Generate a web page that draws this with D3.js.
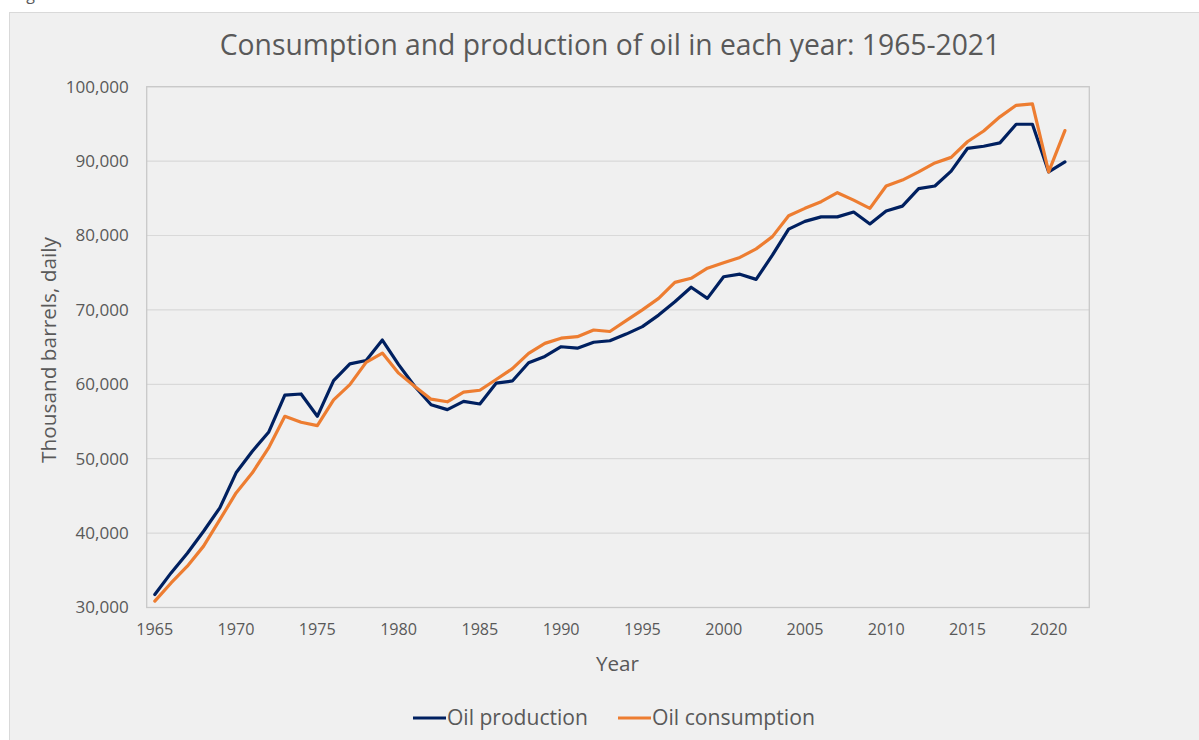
<!DOCTYPE html>
<html>
<head>
<meta charset="utf-8">
<script src="https://cdn.jsdelivr.net/npm/d3@7"></script>
<style>
  html, body { margin: 0; padding: 0; background: #ffffff; }
  svg { display: block; }
  text { font-family: "Open Sans", "Noto Sans", sans-serif; fill: #595959; }
</style>
</head>
<body>
<svg id="chart" width="1199" height="740"></svg>
<script>
// ---- Data (thousand barrels daily) ----
const years = d3.range(1965, 2022);
const axisYears = d3.range(1965, 2023); // category slots incl. an empty trailing slot
const xTickLabels = ["1965","1970","1975","1980","1985","1990","1995","2000","2005","2010","2015","2020"];
const yTicks = [30000, 40000, 50000, 60000, 70000, 80000, 90000, 100000];

const oilProduction = [
  31750, 34650, 37300, 40250, 43400, 48100, 51000, 53550, 58550, 58700,
  55700, 60500, 62750, 63200, 65950, 62650, 59700, 57250, 56600, 57700,
  57350, 60150, 60450, 62900, 63750, 65050, 64850, 65650, 65850, 66750,
  67750, 69300, 71100, 73050, 71550, 74450, 74800, 74100, 77350, 80850,
  81900, 82500, 82500, 83150, 81550, 83300, 83950, 86300, 86650, 88650,
  91700, 92000, 92450, 94950, 94950, 88550, 89900
];
const oilConsumption = [
  30850, 33300, 35550, 38250, 41800, 45400, 48100, 51450, 55700, 54900,
  54450, 57900, 59950, 62950, 64200, 61500, 59700, 58000, 57650, 58950,
  59200, 60650, 62100, 64150, 65500, 66200, 66400, 67300, 67100, 68550,
  70000, 71550, 73700, 74250, 75600, 76350, 77050, 78200, 79850, 82650,
  83650, 84550, 85750, 84750, 83650, 86650, 87450, 88550, 89750, 90500,
  92600, 94050, 95950, 97500, 97700, 88550, 94100
];
const seriesNames = ["Oil production", "Oil consumption"];
const seriesColors = ["#002060", "#ED7D31"];

// ---- Layout ----
const W = 1199, H = 740;
const plot = { left: 146.7, right: 1089.3, top: 86.7, bottom: 607.5 };

const svg = d3.select("#chart");

// small caption cut off at the top (as in the reference)
svg.append("text").attr("x", 14).attr("y", 0).attr("font-size", 16).attr("fill", "#000").text("Figure 1");

// chart box
svg.append("rect").attr("x", 9.5).attr("y", 12.5).attr("width", W).attr("height", H)
  .attr("fill", "#f0f0f0").attr("stroke", "#d9d9d9").attr("stroke-width", 1);

const x = d3.scaleBand().domain(axisYears).range([plot.left, plot.right]).padding(0);
const cx = yr => x(yr) + x.bandwidth() / 2;
const y = d3.scaleLinear().domain([30000, 100000]).range([plot.bottom, plot.top]);

// fit-to-width helper
function fit(sel, target) {
  const fs = parseFloat(sel.attr("font-size"));
  const w = sel.node().getComputedTextLength();
  sel.attr("font-size", fs * target / w);
  return fs * target / w;
}

// gridlines
svg.append("g").selectAll("line").data(yTicks.slice(1)).join("line")
  .attr("x1", plot.left).attr("x2", plot.right)
  .attr("y1", d => y(d)).attr("y2", d => y(d))
  .attr("stroke", "#d9d9d9").attr("stroke-width", 1.2);

// plot border
svg.append("rect").attr("x", plot.left).attr("y", plot.top)
  .attr("width", plot.right - plot.left).attr("height", plot.bottom - plot.top)
  .attr("fill", "none").attr("stroke", "#c8c8c8").attr("stroke-width", 1.3);

// y axis
const yAxis = d3.axisLeft(y).tickValues(yTicks).tickFormat(d3.format(",")).tickSize(0).tickPadding(0);
const gy = svg.append("g").attr("transform", `translate(${plot.left - 18},0)`).call(yAxis);
gy.select(".domain").remove();
gy.selectAll("text").attr("font-size", 16).attr("fill", "#595959")
  .style("font-family", '"Open Sans", sans-serif');
const yfs = fit(gy.selectAll("text").filter(d => d === 100000), 63);
gy.selectAll("text").attr("font-size", yfs);

// x axis
const xAxis = d3.axisBottom(x).tickValues(xTickLabels.map(Number)).tickSize(0).tickPadding(0);
const gx = svg.append("g").attr("transform", `translate(0,${plot.bottom + 16})`).call(xAxis);
gx.select(".domain").remove();
gx.selectAll("text").attr("font-size", 16).attr("fill", "#595959").attr("dy", "0.71em")
  .style("font-family", '"Open Sans", sans-serif');
const xfs = fit(gx.selectAll("text").filter(d => d === 1965), 37);
gx.selectAll("text").attr("font-size", xfs);

// lines
const line = d3.line().x((d, i) => cx(years[i])).y(d => y(d));
[oilProduction, oilConsumption].forEach((s, k) => {
  svg.append("path").datum(s).attr("d", line)
    .attr("fill", "none").attr("stroke", seriesColors[k]).attr("stroke-width", 3.2)
    .attr("stroke-linejoin", "round").attr("stroke-linecap", "round");
});

// title
const title = svg.append("text").attr("x", 610).attr("y", 55).attr("text-anchor", "middle")
  .attr("font-size", 26).text("Consumption and production of oil in each year: 1965-2021");
fit(title, 781);

// axis titles
const xt = svg.append("text").attr("x", 617.5).attr("y", 671).attr("text-anchor", "middle")
  .attr("font-size", 19).text("Year");
fit(xt, 43);
const yt = svg.append("text").attr("transform", "translate(56,350) rotate(-90)").attr("text-anchor", "middle")
  .attr("font-size", 19).text("Thousand barrels, daily");
fit(yt, 226);

// legend
const legendItems = [
  { lx: 413, tx: 447, tw: 141 },
  { lx: 618, tx: 652, tw: 163 }
];
legendItems.forEach((it, k) => {
  svg.append("line").attr("x1", it.lx).attr("x2", it.lx + 33).attr("y1", 718).attr("y2", 718)
    .attr("stroke", seriesColors[k]).attr("stroke-width", 3);
  const t = svg.append("text").attr("x", it.tx).attr("y", 725).attr("font-size", 19).text(seriesNames[k]);
  fit(t, it.tw);
});
</script>
</body>
</html>
